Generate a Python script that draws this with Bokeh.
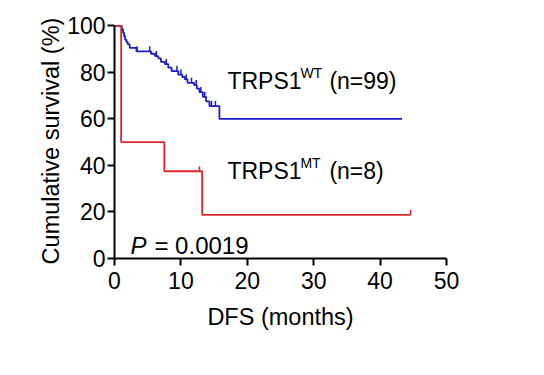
import numpy as np
from bokeh.plotting import figure
from bokeh.models import Range1d, FixedTicker, Label
from bokeh.embed import file_html
from bokeh.resources import INLINE

FONT = "Liberation Sans"

# TRPS1 wild-type (n=99): event times (months) and survival (%) after each step
wt_time = [0, 1.1, 1.3, 1.45, 1.6, 1.8, 2.0, 2.3, 3.3, 5.5, 6.1, 6.6, 7.0, 7.6, 8.1,
           8.6, 9.6, 10.2, 10.6, 11.0, 12.0, 12.4, 12.8, 13.3, 13.8, 14.3, 15.8, 43.3]
wt_surv = [100, 98.5, 97, 95.5, 94, 93, 92, 90.5, 89, 88, 87, 86, 84.5, 83.5, 82,
           80.5, 79, 78, 77, 75.5, 74.5, 73, 71.5, 69.5, 67.5, 65.5, 60, 60]
wt_censor = [3.4, 5.3, 6.3, 7.8, 9.4, 10.0, 10.8, 11.6, 12.3, 13.0, 13.6, 14.6, 15.2]

# TRPS1 mutant (n=8)
mt_time = [0, 1.0, 7.5, 13.2, 44.6]
mt_surv = [100, 50, 37.5, 18.75, 18.75]
mt_censor = [12.8, 44.6]

x_ticks = [0, 10, 20, 30, 40, 50]
y_ticks = [0, 20, 40, 60, 80, 100]

WT_COLOR = "#1c1cc8"
MT_COLOR = "#e0282c"


def surv_at(times, surv, t):
    idx = np.searchsorted(np.asarray(times), np.asarray(t), side="right") - 1
    return np.asarray(surv)[idx]


p = figure(width=536, height=360, output_backend="svg", toolbar_location=None,
           x_range=Range1d(0, 50), y_range=Range1d(0, 101),
           min_border_left=114, min_border_right=90, min_border_top=23,
           min_border_bottom=102)
p.outline_line_color = None
p.grid.visible = False
p.background_fill_color = "white"
p.border_fill_color = "white"

p.step(wt_time, wt_surv, mode="after", line_color=WT_COLOR, line_width=1.8)
p.step(mt_time, mt_surv, mode="after", line_color=MT_COLOR, line_width=1.8)

tick_h = 2.2
wt_cs = surv_at(wt_time, wt_surv, wt_censor)
p.segment(wt_censor, wt_cs, wt_censor, wt_cs + tick_h, line_color=WT_COLOR, line_width=1.5)
mt_cs = surv_at(mt_time, mt_surv, mt_censor)
p.segment(mt_censor, mt_cs, mt_censor, mt_cs + tick_h, line_color=MT_COLOR, line_width=1.5)

for ax in (p.xaxis[0], p.yaxis[0]):
    ax.axis_line_width = 2
    ax.axis_line_color = "black"
    ax.major_tick_line_width = 2
    ax.major_tick_line_color = "black"
    ax.major_tick_in = 0
    ax.major_tick_out = 7
    ax.minor_tick_line_color = None
    ax.major_label_text_font = FONT
    ax.major_label_text_font_size = "23px"
    ax.major_label_text_color = "black"
    ax.axis_label_text_font = FONT
    ax.axis_label_text_font_size = "23.5px"
    ax.axis_label_text_font_style = "normal"
    ax.axis_label_text_color = "black"

p.xaxis.ticker = FixedTicker(ticks=x_ticks)
p.yaxis.ticker = FixedTicker(ticks=y_ticks)
p.xaxis.bounds = (0, 50)
p.yaxis.bounds = (0, 100)
p.xaxis.axis_label = "DFS (months)"
p.yaxis.axis_label = "Cumulative survival (%)"
p.yaxis.major_label_standoff = 2
p.xaxis.major_label_standoff = 6
p.yaxis.axis_label_standoff = 0
p.xaxis.axis_label_standoff = 12


def add_text(x, y, text, size, x_off=0, y_off=0, style="normal"):
    p.add_layout(Label(x=x, y=y, text=text, x_offset=x_off, y_offset=y_off,
                       text_font=FONT, text_font_size=size, text_font_style=style,
                       text_color="black", text_baseline="alphabetic"))


add_text(17.0, 76.4, "TRPS1", "23px")
add_text(17.0, 76.4, "WT", "14px", x_off=73, y_off=8)
add_text(17.0, 76.4, "(n=99)", "23px", x_off=102)

add_text(17.0, 37.4, "TRPS1", "23px")
add_text(17.0, 37.4, "MT", "14px", x_off=73, y_off=8)
add_text(17.0, 37.4, "(n=8)", "23px", x_off=102)

add_text(2.4, 5.8, "P", "24px", style="italic")
add_text(2.4, 5.8, "= 0.0019", "24px", x_off=24)

open("out.html", "w").write(file_html(p, INLINE))
